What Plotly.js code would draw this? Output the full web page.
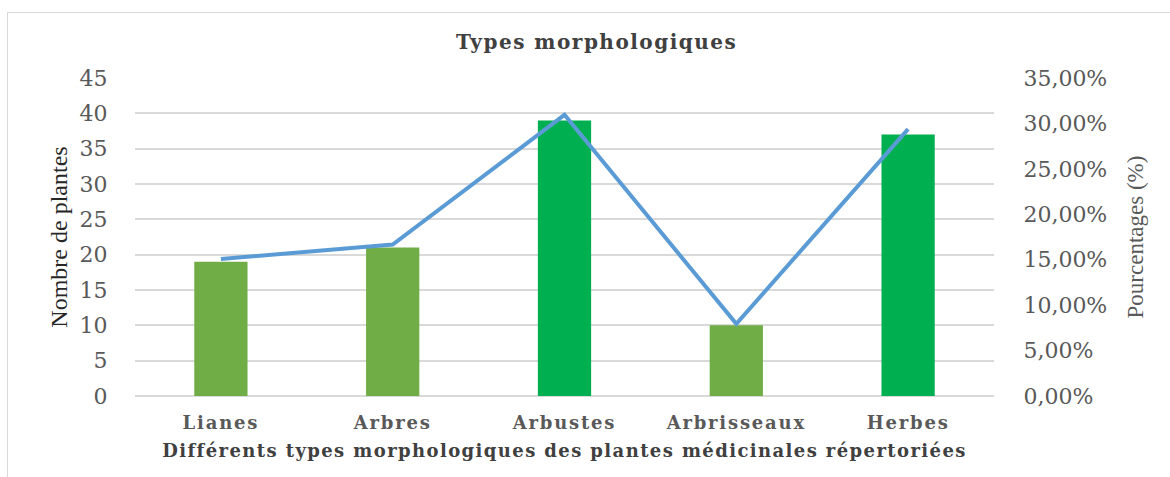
<!DOCTYPE html>
<html>
<head>
<meta charset="utf-8">
<script src="https://cdn.plot.ly/plotly-3.0.1.min.js"></script>
<style>
  html, body { margin: 0; padding: 0; background: #fff; }
  #wrap { position: relative; width: 1170px; height: 477px; }
  #chart { width: 1170px; height: 477px; }
  #frame { position: absolute; left: 7px; top: 12px; width: 1180px; height: 480px;
           border: 1.5px solid #D9D9D9; pointer-events: none; }
  #chart .gtitle { letter-spacing: 1.5px; }
  #chart .xtick text { letter-spacing: 1.8px; }
  #chart .xtitle { letter-spacing: 1.4px; }
</style>
</head>
<body>
<div id="wrap">
  <div id="chart"></div>
  <div id="frame"></div>
</div>
<script>
const categories = ["Lianes", "Arbres", "Arbustes", "Arbrisseaux", "Herbes"];
const counts = [19, 21, 39, 10, 37];
const percentages = [0.1508, 0.1667, 0.3095, 0.0794, 0.2937];
const barColors = ["#70AD47", "#70AD47", "#00B050", "#70AD47", "#00B050"];
const leftTicks = [0, 5, 10, 15, 20, 25, 30, 35, 40, 45];
const rightTicks = [0, 0.05, 0.10, 0.15, 0.20, 0.25, 0.30, 0.35];

const tickFont = { family: "DejaVu Serif", size: 22, color: "#595959" };

const traces = [
  {
    type: "bar",
    x: categories,
    y: counts,
    marker: { color: barColors },
    yaxis: "y",
    hoverinfo: "x+y"
  },
  {
    type: "scatter",
    mode: "lines",
    x: categories,
    y: percentages,
    yaxis: "y2",
    line: { color: "#5B9BD5", width: 4 }
  }
];

const layout = {
  width: 1170,
  height: 477,
  margin: { l: 135, r: 176, t: 78, b: 81 },
  paper_bgcolor: "rgba(0,0,0,0)",
  plot_bgcolor: "#ffffff",
  showlegend: false,
  bargap: 0.69,
  separators: ", ",
  title: {
    text: "<b>Types morphologiques</b>",
    font: { family: "DejaVu Serif", size: 20, color: "#404040" },
    x: 0.51, xanchor: "center",
    y: 0.912, yanchor: "middle"
  },
  xaxis: {
    type: "category",
    tickfont: { family: "DejaVu Serif", size: 18, color: "#595959", weight: "bold" },
    ticks: "outside", ticklen: 10, tickcolor: "rgba(0,0,0,0)",
    showgrid: false,
    showline: false,
    zeroline: false,
    title: {
      text: "<b>Différents types morphologiques des plantes médicinales répertoriées</b>",
      font: { family: "DejaVu Serif", size: 18, color: "#404040" },
      standoff: 12
    }
  },
  yaxis: {
    range: [0, 45],
    tickvals: leftTicks,
    tickfont: tickFont,
    ticks: "outside", ticklen: 22, tickcolor: "rgba(0,0,0,0)",
    showgrid: true, gridcolor: "#D9D9D9", gridwidth: 1.5,
    zeroline: true, zerolinecolor: "#D9D9D9", zerolinewidth: 1.5,
    showline: false,
    title: {
      text: "Nombre de plantes",
      font: { family: "Liberation Serif", size: 24, color: "#262626" },
      standoff: 5
    }
  },
  yaxis2: {
    overlaying: "y",
    side: "right",
    range: [0, 0.35],
    tickvals: rightTicks,
    tickformat: ".2%",
    tickfont: tickFont,
    ticks: "outside", ticklen: 24, tickcolor: "rgba(0,0,0,0)",
    showgrid: false,
    zeroline: false,
    showline: false,
    title: {
      text: "Pourcentages (%)",
      font: { family: "Liberation Serif", size: 23, color: "#595959" },
      standoff: 20
    }
  }
};

Plotly.newPlot("chart", traces, layout, { displayModeBar: false, responsive: false });
</script>
</body>
</html>
